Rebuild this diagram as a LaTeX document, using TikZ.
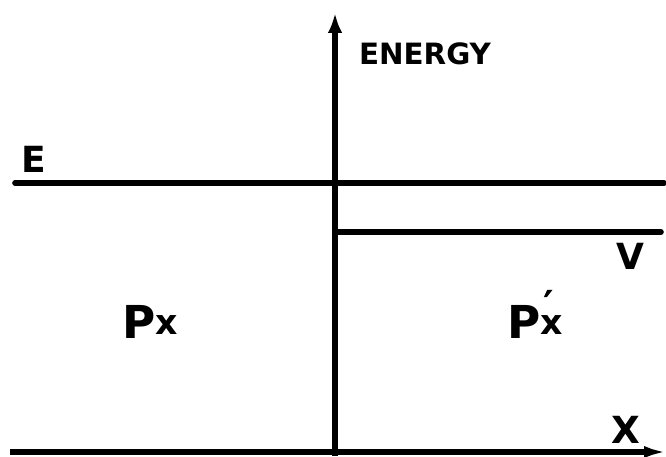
\documentclass[tikz,border=0pt]{standalone}
\usepackage{fontspec}
\setmainfont{DejaVu Sans}
\usetikzlibrary{arrows.meta}
\begin{document}
\begin{tikzpicture}[x=0.75pt,y=-0.75pt,
  axis/.style={line width=4.2pt},
  level/.style={line width=4.2pt, line cap=round},
  lbl/.style={inner sep=0pt, font=\bfseries}]
\clip (0,0) rectangle (666,456);
\coordinate (ybot) at (335,456);
\coordinate (ytop) at (335,13);
\coordinate (xl) at (10,452);
\coordinate (xr) at (668,452);
\coordinate (el) at (15,183);
\coordinate (er) at (664,183);
\coordinate (vl) at (335,232);
\coordinate (vr) at (661,232);
\draw[axis, -{Latex[length=15pt,width=11pt]}] (ybot) -- (ytop);
\draw[axis, -{Latex[length=18pt,width=9pt]}] (xl) -- (xr);
\draw[level] (el) -- (er);
\draw[level] (vl) -- (vr);
\node[lbl, font=\bfseries\fontsize{22}{22}\selectfont] (energy) at (425,54) {ENERGY};
\node[lbl, font=\bfseries\fontsize{27}{27}\selectfont] (E) at (34,159) {E};
\node[lbl, font=\bfseries\fontsize{27}{27}\selectfont] (V) at (630,256) {V};
\node[lbl, font=\bfseries\fontsize{28}{28}\selectfont] (X) at (626,430) {X};
\node[lbl, anchor=base west, font=\bfseries\fontsize{34}{34}\selectfont] (px) at (122,338) {P\raisebox{3pt}{\fontsize{26}{26}\selectfont x}};
\node[lbl, anchor=base west, font=\bfseries\fontsize{34}{34}\selectfont] (ppx) at (507,338) {P\raisebox{3pt}{\fontsize{26}{26}\selectfont\makebox[0pt][l]{\hspace{2pt}\raisebox{11pt}{\fontsize{30}{30}\selectfont ′}}x}};
\end{tikzpicture}
\end{document}
